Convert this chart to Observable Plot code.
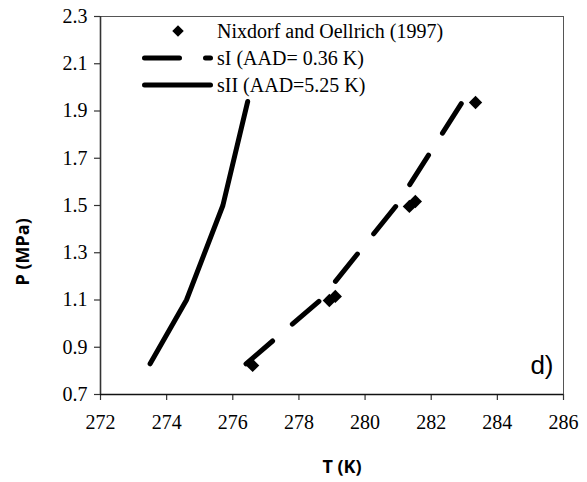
<!DOCTYPE html>
<html><head><meta charset="utf-8">
<script src="https://cdn.jsdelivr.net/npm/d3@7"></script>
<script src="https://cdn.jsdelivr.net/npm/@observablehq/plot@0.6"></script>
<style>body{margin:0;background:#fff}#chart{position:relative;width:587px;height:482px}
#chart svg text{font-family:"Liberation Serif","DejaVu Serif",serif}
#chart svg text.sans{font-family:"Open Sans","Liberation Sans",sans-serif}
#chart svg text.sansreg{font-family:"Liberation Sans",Arial,sans-serif}
</style>
</head><body><div id="chart"></div>
<script>
// ---- data ----
const xTicks = [272, 274, 276, 278, 280, 282, 284, 286];
const yTicks = [0.7, 0.9, 1.1, 1.3, 1.5, 1.7, 1.9, 2.1, 2.3];
const expT = [276.6, 278.92, 279.1, 281.34, 281.52, 283.34];
const expP = [0.823, 1.098, 1.115, 1.496, 1.517, 1.936];
const sIT = [276.4, 278.65, 280.95, 282.95];
const sIP = [0.83, 1.1, 1.5, 1.94];
const sIIT = [273.5, 274.6, 275.7, 276.45];
const sIIP = [0.83, 1.1, 1.5, 1.94];
const legendLabels = ["Nixdorf and Oellrich (1997)", "sI (AAD= 0.36 K)", "sII (AAD=5.25 K)"];
const panelLabel = "d)";
const xLabel = "T (K)";
const yLabel = "P (MPa)";

// ---- tables ----
const exp = expT.map((t, i) => ({T: t, P: expP[i]}));
const sI = sIT.map((t, i) => ({T: t, P: sIP[i]}));
const sII = sIIT.map((t, i) => ({T: t, P: sIIP[i]}));

const LW = 5, DASH = "35,26";

const plot = Plot.plot({
  width: 587, height: 482,
  marginLeft: 100, marginRight: 24, marginTop: 16, marginBottom: 88,
  style: {fontSize: "20px", background: "#fff", color: "#000", overflow: "visible"},
  x: {domain: [272, 286]},
  y: {domain: [0.7, 2.3]},
  marks: [
    Plot.frame({stroke: "#555", strokeWidth: 1}),
    Plot.axisX({ticks: xTicks, tickSize: 6, tickPadding: 14, label: null, stroke: "#333", strokeWidth: 1.2}),
    Plot.axisY({ticks: yTicks, tickSize: 6, tickPadding: 7, label: null, stroke: "#333", strokeWidth: 1.2, tickFormat: d => d.toFixed(1)}),
    Plot.ruleX([272], {stroke: "#333", strokeWidth: 1.6}),
    Plot.ruleY([0.7], {stroke: "#111", strokeWidth: 1.6}),
    Plot.line(sII, {x: "T", y: "P", stroke: "#000", strokeWidth: LW, strokeLinecap: "round", strokeLinejoin: "round"}),
    Plot.line(sI, {x: "T", y: "P", stroke: "#000", strokeWidth: LW, strokeLinecap: "round", strokeLinejoin: "round", strokeDasharray: DASH}),
    Plot.dot(exp, {x: "T", y: "P", symbol: "diamond2", r: 6, fill: "#000", stroke: "none"}),
    Plot.text([panelLabel], {frameAnchor: "bottom-right", textAnchor: "end", lineAnchor: "middle", dx: -10, dy: -29, fontSize: 26, className: "panel"}),
    Plot.text([xLabel], {frameAnchor: "bottom", lineAnchor: "middle", dx: 10, dy: 73, fontWeight: "bold", fontSize: 18, className: "xl"}),
    Plot.text([yLabel], {frameAnchor: "left", lineAnchor: "middle", rotate: -90, dx: -77, dy: 80, fontWeight: "bold", fontSize: 18, className: "yl"})
  ]
});
document.getElementById("chart").appendChild(plot);
d3.select(plot).selectAll(".xl text, .yl text").classed("sans", true);
d3.select(plot).selectAll(".panel text").classed("sansreg", true);

// ---- legend (inside plot, top-left) ----
const svg = d3.select(plot);
const lg = svg.append("g").attr("font-size", 20).attr("text-anchor", "start");
const rowY = [31, 58, 85];
const symX0 = 142, symX1 = 213, textX = 217;
lg.append("path")
  .attr("d", d3.symbol(d3.symbolDiamond2, Math.PI * 5.2 * 5.2)())
  .attr("transform", `translate(178,${rowY[0]})`).attr("fill", "#000");
lg.append("line").attr("x1", symX0 + 2.5).attr("x2", symX1 - 2.5).attr("y1", rowY[1]).attr("y2", rowY[1])
  .attr("stroke", "#000").attr("stroke-width", LW).attr("stroke-linecap", "round").attr("stroke-dasharray", DASH);
lg.append("line").attr("x1", symX0 + 2.5).attr("x2", symX1 - 2.5).attr("y1", rowY[2]).attr("y2", rowY[2])
  .attr("stroke", "#000").attr("stroke-width", LW).attr("stroke-linecap", "round");
legendLabels.forEach((t, i) => {
  lg.append("text").attr("x", textX).attr("y", rowY[i]).attr("dy", "0.34em").attr("text-anchor", "start").text(t);
});
</script>
</body></html>
